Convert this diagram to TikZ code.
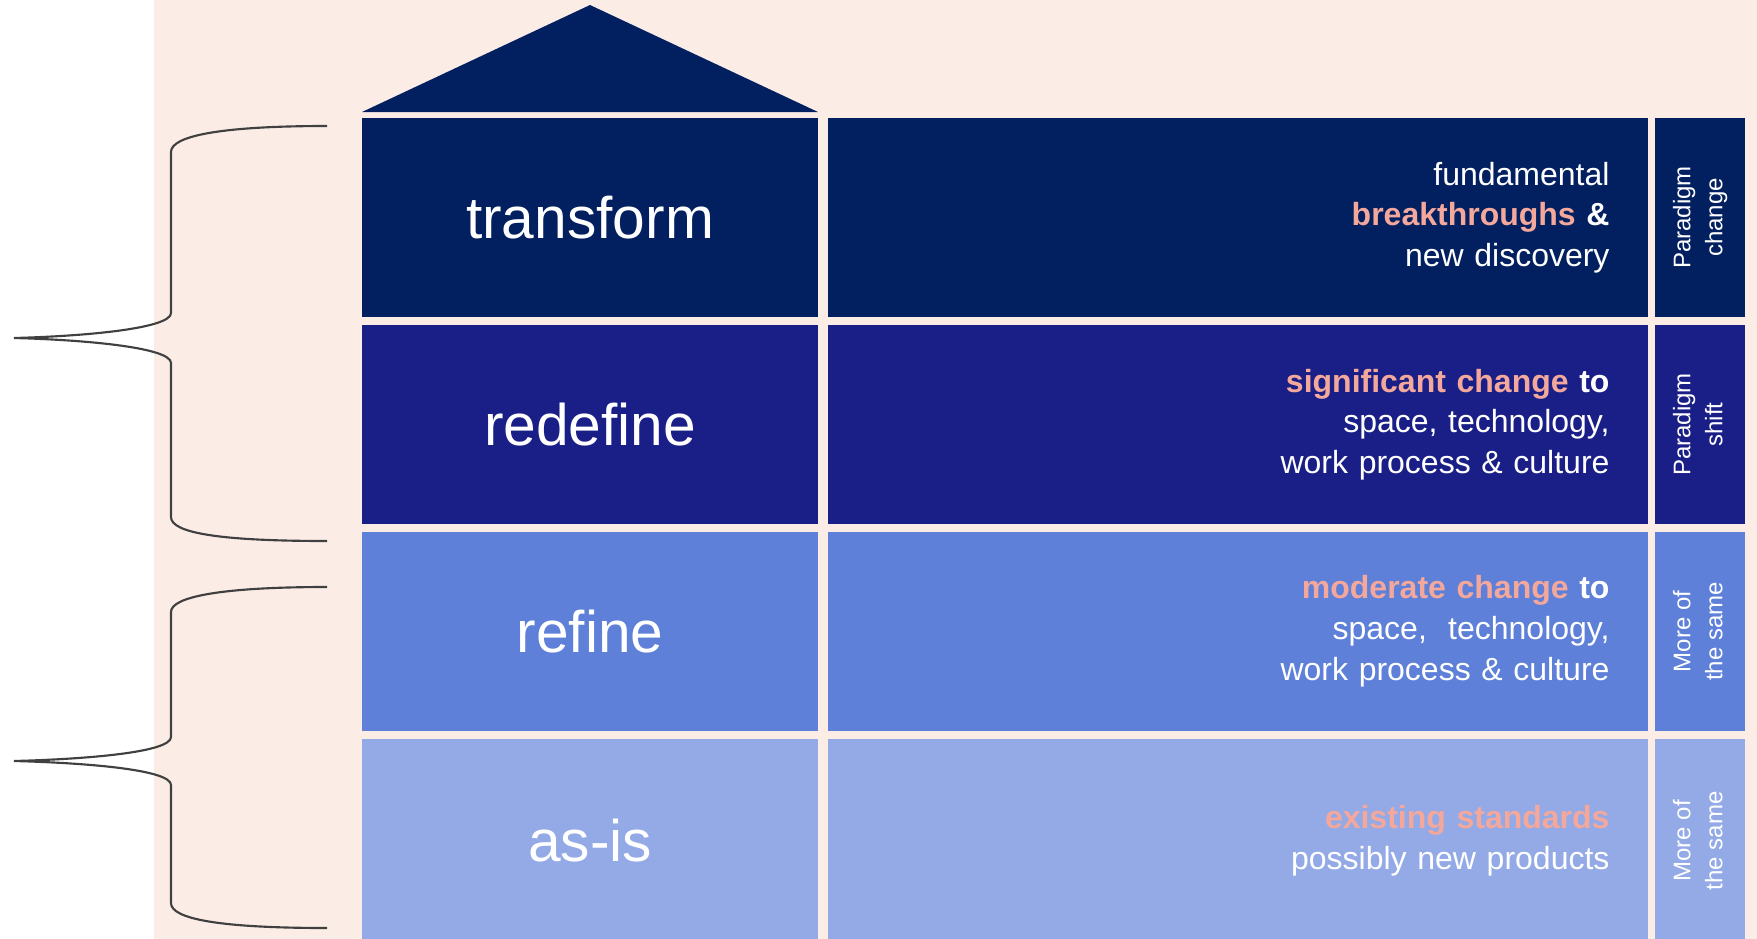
\documentclass[tikz,border=0pt]{standalone}
\usepackage{fontspec}
\setmainfont{Liberation Sans}
\usepackage{xcolor}
\usepackage{tikz}
\usetikzlibrary{ calc, positioning }
\definecolor{roofblue}{RGB}{2,32,96}
\definecolor{shiftblue}{RGB}{26,31,135}
\definecolor{midblue}{RGB}{94,128,217}
\definecolor{paleblue}{RGB}{147,170,230}
\definecolor{peach}{RGB}{251,237,230}
\definecolor{salmon}{RGB}{244,168,156}
\definecolor{bracegray}{RGB}{64,64,64}
\newcommand{\hl}[1]{\textcolor{salmon}{\textbf{#1}}}
\newcommand{\sidetext}[1]{\rotatebox{90}{\begin{tabular}{@{}c@{}}#1\end{tabular}}}
\tikzset{
node distance=5.8pt, % gap between two levels of the house
every node/.style={inner sep=0pt, text=white},
level/.style={minimum width=342pt, minimum height=149pt, font=\fontsize{44}{52}\selectfont},
desc/.style={minimum height=149pt, inner xsep=28.5pt, text width=558pt, align=right,
  font=\fontsize{24}{30.5}\selectfont},
side/.style={minimum width=67.5pt, minimum height=149pt, font=\fontsize{18}{24}\selectfont},
ground/.style={minimum height=153pt}, % lowest row runs off the bottom
brace/.style={draw=bracegray, line width=1.6pt},
}

\begin{document}
\begin{tikzpicture}[x=0.75pt, y=-0.75pt]% one unit is one pixel, y goes down
  \useasboundingbox (0,0) rectangle (1757,939);
  \fill[peach] (154,0) rectangle (1757,939);

  % roof
  \fill[roofblue] (362,112) -- (590,5) -- (818,112) -- cycle;

  % the four levels
  \node[level, fill=roofblue] (transform) at (590,217.5) {transform};
  \node[level, fill=shiftblue, below=of transform] (redefine) {redefine};
  \node[level, fill=midblue, below=of redefine] (refine) {refine};
  \node[level, ground, fill=paleblue, below=of refine] (asis) {as-is};

  % what each level means
  \node[desc, fill=roofblue, right=6.75pt of transform] (d0)
    {fundamental\\\hl{breakthroughs} \textbf{\&}\\new discovery};
  \node[desc, fill=shiftblue, right=6.75pt of redefine] (d1)
    {\hl{significant change} \textbf{to}\\space, technology,\\work process \& culture};
  \node[desc, fill=midblue, right=6.75pt of refine] (d2)
    {\hl{moderate change} \textbf{to}\\space,\ \ technology,\\work process \& culture};
  \node[desc, ground, fill=paleblue, right=6.75pt of asis] (d3)
    {\hl{existing standards}\\possibly new products};

  % side tags
  \node[side, fill=roofblue, right=5.25pt of d0] (s0) {\sidetext{Paradigm\\change}};
  \node[side, fill=shiftblue, right=5.25pt of d1] (s1) {\sidetext{Paradigm\\shift}};
  \node[side, fill=midblue, right=5.25pt of d2] (s2) {\sidetext{More of\\the same}};
  \node[side, ground, fill=paleblue, right=5.25pt of d3] (s3) {\sidetext{More of\\the same}};

  % braces grouping the levels
  \draw[brace] (327,126) .. controls (220,126) and (171,136) .. (171,152) -- (171,313)
    .. controls (171,328) and (90,336) .. (14,338)
    .. controls (90,340) and (171,348) .. (171,363) -- (171,517)
    .. controls (171,533) and (220,541) .. (327,541);
  \draw[brace] (327,587) .. controls (220,587) and (171,597) .. (171,612) -- (171,737)
    .. controls (171,752) and (90,759) .. (14,761)
    .. controls (90,763) and (171,770) .. (171,785) -- (171,903)
    .. controls (171,919) and (220,928) .. (327,928);
\end{tikzpicture}
\end{document}
